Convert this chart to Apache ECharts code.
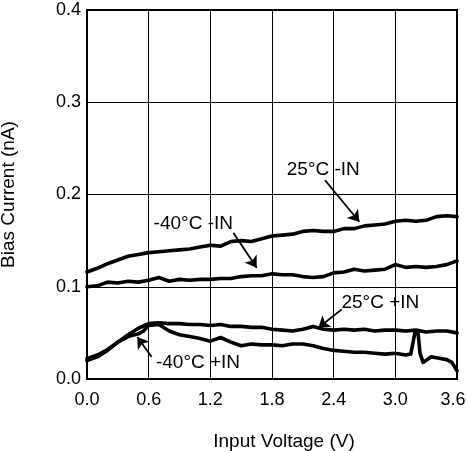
<!DOCTYPE html>
<html>
<head>
<meta charset="utf-8">
<script src="https://cdn.jsdelivr.net/npm/echarts@6/dist/echarts.min.js"></script>
<style>
html,body{margin:0;padding:0;background:#fff;}
#chart{width:466px;height:451px;}
</style>
</head>
<body>
<div id="chart"></div>
<script>
// Shared x values (Input Voltage, V)
var xVolt = [0.0,0.1,0.2,0.3,0.4,0.5,0.6,0.7,0.8,0.9,1.0,1.1,1.2,1.3,1.4,1.5,1.6,1.7,1.8,1.9,2.0,2.1,2.2,2.3,2.4,2.5,2.6,2.7,2.8,2.9,3.0,3.1,3.2,3.3,3.4,3.5,3.6];
// Bias current (nA)
var neg25 = [0.116,0.120,0.125,0.129,0.133,0.135,0.137,0.138,0.139,0.140,0.141,0.143,0.145,0.144,0.149,0.150,0.149,0.152,0.155,0.156,0.157,0.160,0.161,0.160,0.160,0.163,0.163,0.166,0.167,0.168,0.171,0.172,0.171,0.172,0.176,0.177,0.176];
var neg40 = [0.100,0.101,0.105,0.104,0.106,0.105,0.107,0.110,0.106,0.108,0.107,0.108,0.108,0.109,0.109,0.111,0.112,0.112,0.114,0.113,0.113,0.111,0.110,0.111,0.115,0.116,0.119,0.117,0.118,0.119,0.124,0.121,0.122,0.121,0.122,0.124,0.128];
var pos25 = [0.020,0.024,0.031,0.040,0.048,0.055,0.060,0.061,0.060,0.060,0.059,0.059,0.058,0.059,0.057,0.057,0.056,0.056,0.054,0.053,0.052,0.054,0.057,0.054,0.053,0.054,0.053,0.054,0.052,0.053,0.053,0.052,0.053,0.051,0.052,0.052,0.050];
// -40°C +IN has its own x values (spike near 3.2 V)
var xVoltP40 = [0.0,0.1,0.2,0.3,0.4,0.5,0.55,0.6,0.7,0.8,0.9,1.0,1.1,1.2,1.3,1.4,1.5,1.6,1.7,1.8,1.9,2.0,2.1,2.2,2.3,2.4,2.5,2.6,2.7,2.8,2.9,3.0,3.1,3.15,3.19,3.22,3.24,3.27,3.35,3.4,3.5,3.55,3.6];
var pos40 = [0.022,0.026,0.032,0.040,0.046,0.049,0.052,0.058,0.059,0.052,0.048,0.046,0.044,0.041,0.045,0.040,0.036,0.038,0.037,0.037,0.036,0.038,0.038,0.036,0.033,0.031,0.030,0.029,0.029,0.028,0.027,0.028,0.026,0.027,0.050,0.051,0.028,0.018,0.024,0.023,0.021,0.018,0.009];

// Annotations (data coordinates)
var annoText = ['25°C -IN','-40°C -IN','25°C +IN','-40°C +IN'];
var annoTextPos = [[2.299,0.2266],[1.034,0.1686],[2.854,0.0827],[1.080,0.0177]];
var arrowFrom = [[2.316,0.2154],[1.424,0.1586],[2.478,0.0755],[0.629,0.0238]];
var arrowTo = [[2.650,0.1705],[1.651,0.1207],[2.251,0.0556],[0.490,0.0455]];

var xTicks = [0.0,0.6,1.2,1.8,2.4,3.0,3.6];
var yTicks = [0.0,0.1,0.2,0.3,0.4];

function pairs(xs, ys){ return xs.map(function(x,i){ return [x, ys[i]]; }); }

var FONT = 'Liberation Sans, Arial, Helvetica, sans-serif';

function lineSeries(name, xs, ys){
  return {
    name: name, type: 'line', data: pairs(xs, ys),
    showSymbol: false, symbol: 'none',
    lineStyle: {color: '#000', width: 3.6, join: 'round', cap: 'round'},
    animation: false, silent: true
  };
}

var series = [
  lineSeries('25°C -IN', xVolt, neg25),
  lineSeries('-40°C -IN', xVolt, neg40),
  lineSeries('25°C +IN', xVolt, pos25),
  lineSeries('-40°C +IN', xVoltP40, pos40)
];

series.push({
  type: 'line', data: [], silent: true, animation: false,
  markLine: {
    silent: true, animation: false,
    symbol: ['none','arrow'], symbolSize: 11,
    itemStyle: {color: '#000'},
    lineStyle: {color: '#000', width: 1.8, type: 'solid'},
    label: {show: false},
    data: arrowFrom.map(function(f,i){ return [{coord: f}, {coord: arrowTo[i]}]; })
  },
  markPoint: {
    silent: true, animation: false,
    symbol: 'circle', symbolSize: 1,
    itemStyle: {color: 'rgba(0,0,0,0)'},
    label: {show: true, position: 'inside', color: '#000', fontSize: 19, fontFamily: FONT,
      formatter: function(p){ return p.name; }},
    data: annoText.map(function(t,i){ return {name: t, coord: annoTextPos[i]}; })
  }
});

var xMax = xTicks[xTicks.length-1];
var chart = echarts.init(document.getElementById('chart'));
chart.setOption({
  backgroundColor: '#fff',
  animation: false,
  grid: {left: 87, right: 9, top: 10, bottom: 72, show: true, borderColor: '#000', borderWidth: 2,
    backgroundColor: 'transparent', containLabel: false, outerBoundsMode: 'none'},
  xAxis: {
    type: 'value', min: xTicks[0], max: xMax, interval: 0.6,
    name: 'Input Voltage (V)', nameLocation: 'middle', nameGap: 53,
    nameTextStyle: {color: '#000', fontSize: 19, fontFamily: FONT, padding: [0,0,0,24]},
    axisLine: {show: true, lineStyle: {color: '#000', width: 2}},
    axisTick: {show: false},
    splitLine: {show: true, lineStyle: {color: '#000', width: 1}},
    axisLabel: {color: '#000', fontSize: 18, fontFamily: FONT, margin: 12,
      rich: {r: {color: '#000', fontSize: 18, fontFamily: FONT, padding: [0, 8, 0, 0]}},
      formatter: function(v){ return Math.abs(v - xMax) < 1e-9 ? '{r|' + v.toFixed(1) + '}' : v.toFixed(1); }}
  },
  yAxis: {
    type: 'value', min: yTicks[0], max: yTicks[yTicks.length-1], interval: 0.1,
    name: 'Bias Current (nA)', nameLocation: 'middle', nameGap: 69,
    nameTextStyle: {color: '#000', fontSize: 19, fontFamily: FONT},
    axisLine: {show: true, lineStyle: {color: '#000', width: 2}},
    axisTick: {show: false},
    splitLine: {show: true, lineStyle: {color: '#000', width: 1}},
    axisLabel: {color: '#000', fontSize: 18, fontFamily: FONT, margin: 6,
      formatter: function(v){ return v.toFixed(1); }}
  },
  series: series
});
</script>
</body>
</html>
